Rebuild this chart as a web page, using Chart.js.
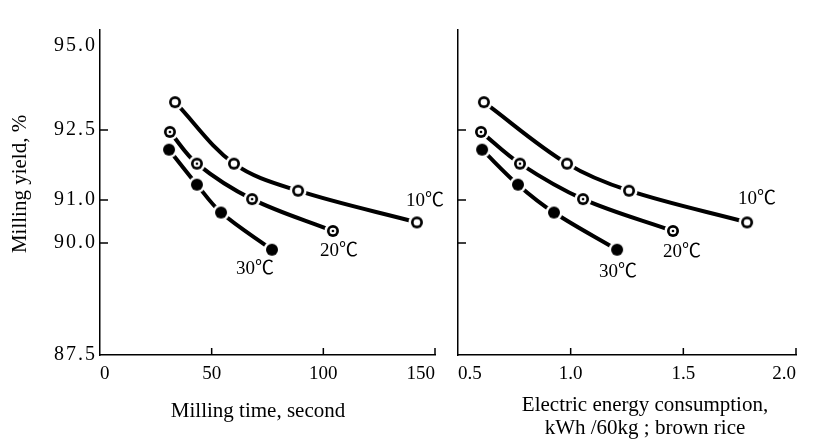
<!DOCTYPE html>
<html>
<head>
<meta charset="utf-8">
<script src="https://cdn.jsdelivr.net/npm/chart.js@4/dist/chart.umd.min.js"></script>
<style>
  html, body { margin: 0; background: #fff; }
  #wrap { position: relative; width: 825px; height: 444px; }
  canvas { position: absolute; top: 0; left: 0; }
</style>
</head>
<body>
<div id="wrap">
  <canvas id="timeChart" width="825" height="444"></canvas>
  <canvas id="energyChart" width="825" height="444"></canvas>
</div>
<script>
// Milling yield against milling time and energy use, per grain temperature.
const temperatures = ['10℃', '20℃', '30℃'];

const millingTime10 = [33.6, 60.0, 88.7, 141.9];
const millingTime20 = [31.3, 43.4, 68.1, 104.3];
const millingTime30 = [30.9, 43.4, 54.2, 77.0];

const energy10 = [0.615, 0.984, 1.259, 1.783];
const energy20 = [0.602, 0.775, 1.055, 1.454];
const energy30 = [0.607, 0.766, 0.926, 1.206];

const yield10 = [93.33, 91.78, 91.20, 90.48];
const yield20 = [92.46, 91.78, 91.02, 90.28];
const yield30 = [92.08, 91.33, 90.71, 89.85];

const yieldTicks = [87.5, 90.0, 91.0, 92.5, 95.0];
const timeTicks = [0, 50, 100, 150];
const energyTicks = [0.5, 1.0, 1.5, 2.0];

// The yield axis is not evenly divided: each labelled value has its own level.
const tickLevels = [0, 0.3625, 0.5016, 0.7282, 1];
const axisTop = 1.052;

function level(v) {
    for (let i = 1; i < yieldTicks.length; i++) {
        if (v <= yieldTicks[i]) {
            const t = (v - yieldTicks[i - 1]) / (yieldTicks[i] - yieldTicks[i - 1]);
            return tickLevels[i - 1] + t * (tickLevels[i] - tickLevels[i - 1]);
        }
    }
    return tickLevels[tickLevels.length - 1];
}

const SERIF = '"Liberation Serif", "Times New Roman", "Noto Sans CJK JP", serif';

function markerStyle(kind) {
    const size = 22;
    const c = size / 2;
    const canvas = document.createElement('canvas');
    canvas.width = size;
    canvas.height = size;
    const ctx = canvas.getContext('2d');

    // white halo so the curve stops short of the marker
    ctx.fillStyle = '#fff';
    ctx.beginPath();
    ctx.arc(c, c, 8.5, 0, 2 * Math.PI);
    ctx.fill();

    ctx.fillStyle = '#000';
    ctx.beginPath();
    ctx.arc(c, c, 6, 0, 2 * Math.PI);
    ctx.fill();

    if (kind !== 'filled') {
        ctx.fillStyle = '#fff';
        ctx.beginPath();
        ctx.arc(c, c, 3.3, 0, 2 * Math.PI);
        ctx.fill();
        if (kind === 'dot') {
            ctx.fillStyle = '#000';
            ctx.beginPath();
            ctx.arc(c, c, 1.3, 0, 2 * Math.PI);
            ctx.fill();
        }
    }
    return canvas;
}

const markers = [markerStyle('open'), markerStyle('dot'), markerStyle('filled')];

function series(xs, ys, i) {
    return {
        label: temperatures[i],
        data: xs.map((x, k) => ({ x: x, y: level(ys[k]) })),
        borderColor: '#000',
        borderWidth: 4,
        tension: 0.35,
        pointStyle: markers[i],
        pointRadius: 8,
        fill: false
    };
}

// Tick marks point into the plot, so they are drawn here instead of by the scales.
const innerTicks = {
    id: 'innerTicks',
    afterDraw(chart) {
        const { ctx, chartArea, scales } = chart;
        ctx.save();
        ctx.strokeStyle = '#000';
        ctx.lineWidth = 1.5;
        ctx.beginPath();
        scales.x.ticks.forEach((t) => {
            if (t.value === scales.x.min) return;
            const px = scales.x.getPixelForValue(t.value);
            ctx.moveTo(px, chartArea.bottom);
            ctx.lineTo(px, chartArea.bottom - 7);
        });
        scales.y.ticks.forEach((t) => {
            if (t.value === 0 || t.value === 1) return;
            const py = scales.y.getPixelForValue(t.value);
            ctx.moveTo(chartArea.left, py);
            ctx.lineTo(chartArea.left + 8, py);
        });
        ctx.stroke();
        ctx.restore();
    }
};

// Wider spacing for the yield numbers.
const spacedLabels = {
    id: 'spacedLabels',
    beforeDraw(chart) {
        const y = chart.scales.y;
        if (y._spaced) return;
        const drawLabels = y.drawLabels;
        y.drawLabels = function (area) {
            chart.ctx.save();
            chart.ctx.letterSpacing = '2px';
            drawLabels.call(this, area);
            chart.ctx.restore();
        };
        y._spaced = true;
    }
};

const curveLabels = {
    id: 'curveLabels',
    afterDatasetsDraw(chart, args, opts) {
        const ctx = chart.ctx;
        ctx.save();
        ctx.font = '19px ' + SERIF;
        ctx.fillStyle = '#000';
        ctx.textAlign = 'center';
        ctx.textBaseline = 'middle';
        chart.data.datasets.forEach((ds, i) => {
            const pts = chart.getDatasetMeta(i).data;
            const last = pts[pts.length - 1];
            const off = opts.offsets[i];
            ctx.fillText(ds.label, last.x + off[0], last.y + off[1]);
        });
        ctx.restore();
    }
};

const axisTitles = {
    id: 'axisTitles',
    afterDraw(chart, args, opts) {
        const ctx = chart.ctx;
        ctx.save();
        ctx.font = '21px ' + SERIF;
        ctx.fillStyle = '#000';
        ctx.textAlign = 'center';
        ctx.textBaseline = 'middle';
        opts.lines.forEach((l) => {
            ctx.save();
            ctx.translate(l.x, l.y);
            if (l.rotate) ctx.rotate(-Math.PI / 2);
            ctx.fillText(l.text, 0, 0);
            ctx.restore();
        });
        ctx.restore();
    }
};

function noEdgePadding(s) {
    s.paddingLeft = 0;
    s.paddingRight = 0;
    s.paddingTop = 0;
    s.paddingBottom = 0;
}

function yScale(showLabels, width) {
    return {
        type: 'linear',
        min: 0,
        max: axisTop,
        afterBuildTicks: (s) => { s.ticks = tickLevels.map((v) => ({ value: v })); },
        afterFit: (s) => { s.width = width; noEdgePadding(s); },
        grid: { display: false, drawTicks: false },
        border: { display: true, color: '#000', width: 1.5 },
        ticks: {
            display: showLabels,
            color: '#000',
            padding: 3,
            font: { family: SERIF, size: 20 },
            callback: (v, i) => yieldTicks[i].toFixed(1)
        }
    };
}

function xScale(tickValues, digits) {
    return {
        type: 'linear',
        min: tickValues[0],
        max: tickValues[tickValues.length - 1],
        afterBuildTicks: (s) => { s.ticks = tickValues.map((v) => ({ value: v })); },
        afterFit: (s) => { s.height = 89; noEdgePadding(s); },
        grid: { display: false, drawTicks: false },
        border: { display: true, color: '#000', width: 1.5 },
        ticks: {
            color: '#000',
            padding: 8,
            align: 'inner',
            maxRotation: 0,
            font: { family: SERIF, size: 19 },
            callback: (v) => v.toFixed(digits)
        }
    };
}

function baseOptions(padding) {
    return {
        responsive: false,
        animation: false,
        devicePixelRatio: 1,
        showLine: true,
        layout: { autoPadding: false, padding: padding },
        plugins: { legend: { display: false }, tooltip: { enabled: false } }
    };
}

// Both panels share the page width; each one keeps to its own side through padding.
const timeOptions = baseOptions({ left: 0, right: 390, top: 30, bottom: 0 });
timeOptions.scales = { x: xScale(timeTicks, 0), y: yScale(true, 100) };
timeOptions.plugins.curveLabels = { offsets: [[8, -21], [6, 20], [-17, 19]] };
timeOptions.plugins.axisTitles = {
    lines: [
        { text: 'Milling yield, %', x: 20, y: 184, rotate: true },
        { text: 'Milling time, second', x: 258, y: 411 }
    ]
};

new Chart(document.getElementById('timeChart'), {
    type: 'scatter',
    data: {
        datasets: [
            series(millingTime10, yield10, 0),
            series(millingTime20, yield20, 1),
            series(millingTime30, yield30, 2)
        ]
    },
    options: timeOptions,
    plugins: [innerTicks, spacedLabels, curveLabels, axisTitles]
});

const energyOptions = baseOptions({ left: 450, right: 29, top: 30, bottom: 0 });
energyOptions.scales = { x: xScale(energyTicks, 1), y: yScale(false, 8) };
energyOptions.plugins.curveLabels = { offsets: [[10, -23], [9, 21], [1, 22]] };
energyOptions.plugins.axisTitles = {
    lines: [
        { text: 'Electric energy consumption,', x: 645, y: 405 },
        { text: 'kWh /60kg ; brown rice', x: 645, y: 428 }
    ]
};

new Chart(document.getElementById('energyChart'), {
    type: 'scatter',
    data: {
        datasets: [
            series(energy10, yield10, 0),
            series(energy20, yield20, 1),
            series(energy30, yield30, 2)
        ]
    },
    options: energyOptions,
    plugins: [innerTicks, spacedLabels, curveLabels, axisTitles]
});
</script>
</body>
</html>
